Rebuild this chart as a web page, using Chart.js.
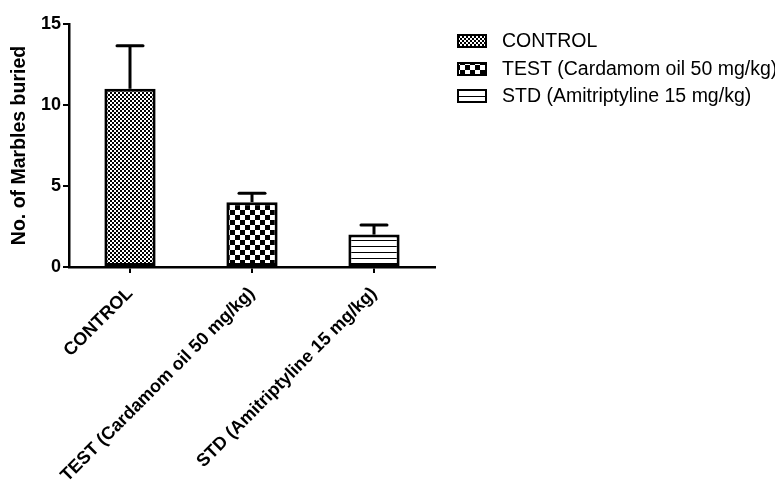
<!DOCTYPE html>
<html>
<head>
<meta charset="utf-8">
<script src="https://cdn.jsdelivr.net/npm/chart.js@4.4.0/dist/chart.umd.min.js"></script>
<style>
  html, body { margin: 0; padding: 0; background: #ffffff; }
  #wrap { width: 775px; height: 480px; position: relative; }
</style>
</head>
<body>
<div id="wrap"><canvas id="c" width="775" height="480"></canvas></div>
<script>
// ---- data ----
const categories = ['CONTROL', 'TEST (Cardamom oil 50 mg/kg)', 'STD (Amitriptyline 15 mg/kg)'];
const means = [11, 4, 2];
const sems = [2.65, 0.55, 0.6];
const yTickValues = [0, 5, 10, 15];
const yTitle = 'No. of Marbles buried';

// ---- patterns ----
function makePattern(kind) {
  const c = document.createElement('canvas');
  const g = c.getContext('2d');
  if (kind === 'fine') {
    c.width = 4; c.height = 4;
    g.fillStyle = '#000'; g.fillRect(0, 0, 4, 4);
    g.fillStyle = '#fff'; g.fillRect(0, 0, 2, 2); g.fillRect(2, 2, 2, 2);
  } else if (kind === 'checker') {
    c.width = 10; c.height = 10;
    g.fillStyle = '#fff'; g.fillRect(0, 0, 10, 10);
    g.fillStyle = '#000'; g.fillRect(0, 0, 5, 5); g.fillRect(5, 5, 5, 5);
  } else {
    c.width = 6; c.height = 6;
    g.fillStyle = '#fff'; g.fillRect(0, 0, 6, 6);
    g.fillStyle = '#000'; g.fillRect(0, 0, 6, 1);
  }
  return g.createPattern(c, 'repeat');
}
const fills = [makePattern('fine'), makePattern('checker'), makePattern('lines')];

const FONT = "'Liberation Sans', Arial, Helvetica, sans-serif";

// ---- error bars ----
const errorBars = {
  id: 'errorBars',
  afterDatasetsDraw(chart) {
    const ctx = chart.ctx;
    const ys = chart.scales.y;
    const meta = chart.getDatasetMeta(0);
    ctx.save();
    ctx.strokeStyle = '#000';
    ctx.lineWidth = 3;
    meta.data.forEach((bar, i) => {
      const x = bar.x;
      const y0 = ys.getPixelForValue(means[i]);
      const y1 = ys.getPixelForValue(means[i] + sems[i]);
      ctx.lineCap = 'butt';
      ctx.beginPath();
      ctx.moveTo(x, y0); ctx.lineTo(x, y1);
      ctx.stroke();
      ctx.lineCap = 'round';
      ctx.beginPath();
      ctx.moveTo(x - 13, y1); ctx.lineTo(x + 13, y1);
      ctx.stroke();
    });
    ctx.restore();
  }
};

// ---- legend ----
const sideLegend = {
  id: 'sideLegend',
  afterDraw(chart) {
    const ctx = chart.ctx;
    ctx.save();
    const x0 = 458, sw = 28, sh = 12, tx = 502;
    const rowY = [41, 69, 96];
    categories.forEach((name, i) => {
      const cy = rowY[i];
      ctx.fillStyle = fills[i];
      ctx.fillRect(x0, cy - sh / 2, sw, sh);
      ctx.strokeStyle = '#000';
      ctx.lineWidth = 2;
      ctx.strokeRect(x0, cy - sh / 2, sw, sh);
      ctx.fillStyle = '#000';
      ctx.font = '19.5px ' + FONT;
      ctx.textBaseline = 'middle';
      ctx.textAlign = 'left';
      ctx.fillText(name, tx, cy + 1);
    });
    ctx.restore();
  }
};

new Chart(document.getElementById('c'), {
  type: 'bar',
  data: {
    labels: categories,
    datasets: [{
      data: means,
      backgroundColor: fills,
      borderColor: '#000',
      borderWidth: 3,
      borderSkipped: false,
      categoryPercentage: 1.0,
      barPercentage: 0.42
    }]
  },
  options: {
    responsive: false,
    animation: false,
    events: [],
    layout: { padding: { left: 8, right: 340, top: 24, bottom: 0 } },
    plugins: { legend: { display: false }, tooltip: { enabled: false } },
    scales: {
      x: {
        grid: { display: true, offset: false, drawOnChartArea: false, drawTicks: true, tickLength: 6, color: '#000', lineWidth: 2 },
        border: { display: true, color: '#000', width: 2.5 },
        ticks: {
          color: '#000', autoSkip: false, maxRotation: 45, minRotation: 45, padding: 10,
          font: { family: FONT, size: 18, weight: 'bold' }
        },
        afterFit(s) { s.height = 480 - 267; }
      },
      y: {
        min: 0, max: 15,
        afterBuildTicks(s) { s.ticks = yTickValues.map(v => ({ value: v })); },
        grid: { display: true, drawOnChartArea: false, drawTicks: true, tickLength: 6, color: '#000', lineWidth: 2 },
        border: { display: true, color: '#000', width: 2.5 },
        ticks: {
          color: '#000', padding: 2,
          font: { family: FONT, size: 18, weight: 'bold' }
        },
        title: {
          display: true, text: yTitle, color: '#000', padding: { top: 0, bottom: 4 },
          font: { family: FONT, size: 19.5, weight: 'bold' }
        },
        afterFit(s) { s.width = 69 - 8; }
      }
    }
  },
  plugins: [errorBars, sideLegend]
});
</script>
</body>
</html>
